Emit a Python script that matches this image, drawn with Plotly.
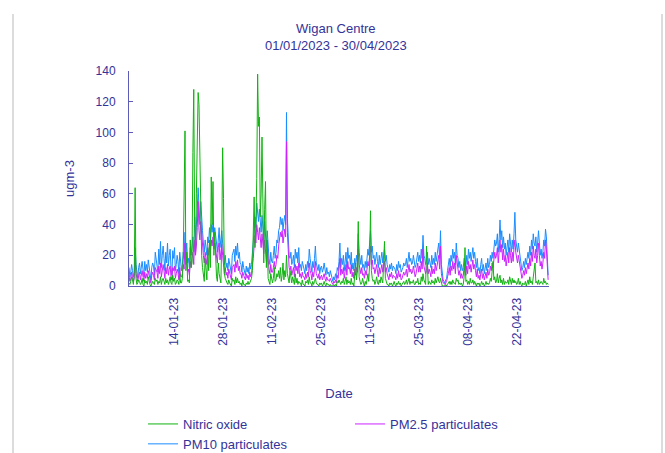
import pandas as pd
import plotly.graph_objects as go

# Values every 6 hours, 01/01/2023 00:00 onwards (ugm-3)
start_time = "2023-01-01 00:00"
step = "6h"

pm10 = [
    12,6,9,14, 10,6,9,25, 14,7,5,12, 15,8,13,16, 11,6,16,10, 14,9,17,12, 8,4,12,15, 13,7,22,18, 16,9,24,14, 29,12,20,26,
    18,10,22,15, 28,13,20,24, 12,7,23,18, 25,10,14,20, 16,8,22,12, 10,14,22,18, 35,20,28,15, 18,12,25,20, 28,32,22,45, 30,38,50,64,
    48,40,55,42, 36,28,22,30, 25,20,32,28, 38,30,40,35, 41,32,38,30, 28,22,34,38, 25,30,36,28, 22,14,20,12, 15,10,18,14, 12,8,20,22,
    24,16,26,20, 28,18,22,15, 14,9,16,12, 10,7,13,9, 12,8,15,11, 14,20,28,36, 45,38,54,48, 42,50,40,35, 46,38,30,42, 32,25,36,22,
    18,14,22,16, 15,20,26,18, 22,30,28,36, 38,45,40,44, 36,42,46,40, 113,44,30,20, 18,22,14,16, 20,12,24,18, 22,15,25,12, 14,10,16,12,
    11,8,14,10, 16,12,24,18, 14,9,16,12, 18,26,15,12, 10,14,8,12, 13,9,11,15, 10,7,12,8, 9,6,10,7, 5,3,6,4, 8,5,12,10,
    16,28,12,18, 14,20,10,16, 22,12,25,18, 20,14,22,11, 15,10,18,12, 20,16,34,22, 18,14,20,12, 14,10,16,12, 18,24,20,30, 36,22,26,18,
    20,14,18,22, 16,12,20,14, 18,22,15,20, 24,16,20,14, 12,9,14,11, 15,10,13,12, 11,8,14,10, 16,12,14,9, 10,12,15,13, 14,18,12,16,
    22,16,18,14, 15,20,17,12, 14,18,22,16, 20,15,24,18, 33,20,18,14, 16,22,14,18, 15,12,20,14, 18,14,22,16, 20,24,28,18, 36,14,8,4,
    3,2,4,5, 10,14,18,12, 20,16,24,18, 22,14,28,20, 18,12,16,10, 14,10,12,18, 16,12,20,14, 24,18,22,16, 20,25,18,22, 16,12,18,10,
    12,8,14,18, 10,14,8,12, 15,10,18,12, 14,20,16,22, 18,24,30,26, 28,34,22,30, 43,30,36,25, 32,24,28,20, 26,30,22,34, 28,22,30,24,
    34,48,30,26, 22,28,24,18, 14,10,12,16, 12,18,14,20, 22,18,26,20, 30,24,34,28, 26,32,22,28, 36,28,20,24, 18,22,30,26, 37,32,12,7,
]

pm25 = [
    7,3,5,9, 6,3,5,18, 8,4,3,7, 9,4,7,10, 6,3,9,5, 8,5,10,7, 4,2,7,9, 7,4,12,10, 9,5,13,8, 15,6,11,14,
    10,5,12,8, 14,7,11,13, 6,4,12,10, 13,5,8,11, 9,4,12,6, 6,8,14,11, 28,14,18,9, 11,7,16,12, 18,22,14,30, 20,26,38,55,
    36,30,42,32, 26,20,15,22, 18,14,24,20, 28,22,30,26, 32,24,28,22, 20,15,25,28, 17,22,27,20, 14,8,12,7, 9,5,11,8, 7,4,12,13,
    14,9,16,12, 17,10,13,8, 8,5,9,7, 6,4,8,5, 7,4,9,6, 8,12,18,26, 33,28,40,35, 30,38,29,25, 34,27,21,30, 22,16,25,14,
    11,8,14,9, 9,12,16,11, 14,20,18,26, 30,35,32,36, 28,34,37,32, 94,35,20,12, 10,13,7,9, 12,6,14,10, 13,8,15,6, 8,5,9,6,
    6,4,8,5, 9,6,15,10, 8,4,9,6, 10,16,8,6, 5,8,4,6, 7,4,6,8, 5,3,6,4, 4,3,5,3, 2,1,3,2, 4,2,7,5,
    10,18,7,11, 8,12,5,9, 14,7,16,11, 12,8,14,6, 9,5,11,7, 12,9,24,14, 11,8,12,7, 8,5,10,7, 11,16,13,20, 26,14,17,11,
    12,8,11,14, 9,6,12,8, 11,14,9,12, 16,9,12,8, 6,4,8,6, 9,5,7,6, 6,4,8,5, 10,6,8,4, 5,7,9,7, 8,11,6,10,
    14,9,11,8, 9,13,10,6, 8,11,15,9, 13,9,16,11, 24,13,11,8, 10,15,8,11, 9,6,13,8, 11,8,15,10, 13,16,20,11, 26,8,4,2,
    2,1,2,3, 6,8,12,7, 13,10,16,11, 15,8,20,13, 11,7,10,5, 8,5,7,12, 10,7,13,8, 16,11,14,9, 13,17,11,14, 10,6,11,5,
    7,4,8,11, 5,8,4,7, 9,5,11,7, 8,13,10,15, 12,17,22,18, 20,25,15,22, 30,22,27,17, 24,16,20,13, 18,22,15,25, 20,15,22,16,
    25,30,22,18, 15,20,16,11, 8,5,7,10, 7,12,8,13, 15,11,18,13, 22,16,26,20, 18,24,15,20, 28,20,13,16, 11,15,22,18, 30,24,8,4,
]

nitric_oxide = [
    2,1,3,6, 4,1,8,64, 5,1,2,4, 3,1,2,5, 1,0,4,2, 3,1,6,2, 1,0,2,3, 2,1,5,3, 4,1,3,2, 6,1,4,5,
    3,1,5,2, 4,1,3,6, 2,1,7,3, 5,1,2,4, 3,1,8,2, 2,5,20,88, 101,10,22,3, 4,2,30,12, 15,87,128,40, 22,60,117,126,
    118,80,45,20, 12,5,3,18, 8,4,25,10, 30,12,71,40, 68,20,35,10, 6,3,15,8, 4,2,30,90, 57,8,5,3, 2,1,4,2, 1,0,5,3,
    4,1,6,2, 5,2,3,1, 2,0,4,1, 1,0,2,1, 3,1,2,4, 5,10,30,58, 25,40,70,138, 104,110,45,60, 97,30,15,50, 68,12,30,5,
    3,1,8,4, 2,5,12,3, 4,8,6,10, 5,12,3,7, 15,4,10,6, 20,8,3,2, 10,4,2,6, 3,1,8,2, 5,1,3,2, 2,0,4,1,
    1,0,3,2, 4,1,6,2, 2,0,3,1, 3,5,2,1, 1,0,2,1, 2,0,1,3, 1,0,2,1, 1,0,1,0, 0,0,1,0, 1,0,3,2,
    4,2,1,3, 2,5,1,3, 6,1,4,2, 3,1,5,1, 2,0,8,15, 4,10,42,6, 3,1,2,5, 2,0,3,1, 4,8,3,15, 49,10,5,3,
    4,1,3,6, 2,1,4,2, 6,3,2,15, 29,5,3,1, 1,0,2,1, 2,0,1,3, 1,0,2,1, 3,1,2,0, 1,2,3,1, 2,4,1,3,
    5,1,3,2, 2,4,1,1, 3,2,5,1, 2,1,6,3, 8,4,2,1, 26,5,1,3, 2,1,4,2, 3,1,5,2, 4,6,3,2, 5,1,0,0,
    0,0,1,0, 1,2,3,1, 3,1,4,2, 2,1,5,3, 4,1,2,1, 2,0,1,6, 25,3,4,1, 3,1,5,2, 2,4,1,3, 1,0,2,1,
    2,0,1,3, 1,2,0,1, 3,1,2,1, 2,5,3,12, 16,4,6,2, 3,8,2,5, 7,2,4,1, 5,1,3,2, 2,4,1,6, 3,1,5,2,
    4,2,3,1, 2,5,1,3, 1,0,2,1, 1,3,0,2, 4,1,6,2, 3,1,5,8, 15,2,3,1, 4,1,2,3, 2,1,5,2, 3,1,2,1,
]

tick_dates = ["2023-01-14", "2023-01-28", "2023-02-11", "2023-02-25",
              "2023-03-11", "2023-03-25", "2023-04-08", "2023-04-22"]
tick_labels = ["14-01-23", "28-01-23", "11-02-23", "25-02-23",
               "11-03-23", "25-03-23", "08-04-23", "22-04-23"]
y_ticks = [0, 20, 40, 60, 80, 100, 120, 140]

def times(n):
    return pd.date_range(start_time, periods=n, freq=step)

TXT = "#333399"
AX = "#5c5cb8"
FONT = "Liberation Sans, Arial, sans-serif"

fig = go.Figure()
fig.add_trace(go.Scatter(x=times(len(pm10)), y=pm10, mode="lines", name="PM10 particulates",
                         line=dict(color="#1a8cff", width=1), legendrank=3))
fig.add_trace(go.Scatter(x=times(len(pm25)), y=pm25, mode="lines", name="PM2.5 particulates",
                         line=dict(color="#cc22ff", width=1), legendrank=2))
fig.add_trace(go.Scatter(x=times(len(nitric_oxide)), y=nitric_oxide, mode="lines", name="Nitric oxide",
                         line=dict(color="#11b311", width=1), legendrank=1))

fig.update_layout(
    width=665, height=453,
    margin=dict(l=129, r=116, t=71, b=167, autoexpand=False),
    paper_bgcolor="white", plot_bgcolor="white",
    font=dict(family=FONT, size=12, color=TXT),
    title=dict(text="Wigan Centre<br>01/01/2023 - 30/04/2023", x=0.505, xref="container",
               xanchor="center", y=1 - 33 / 453, yref="container", yanchor="top",
               font=dict(family=FONT, size=13, color=TXT)),
    showlegend=True,
    legend=dict(orientation="h", x=(143 - 129) / 420, xanchor="left",
                yref="container", y=1 - 409 / 453, yanchor="top",
                entrywidth=162, entrywidthmode="pixels", tracegroupgap=0,
                font=dict(family=FONT, size=13, color=TXT), bgcolor="rgba(0,0,0,0)"),
    xaxis=dict(type="date", range=["2023-01-01 00:00", "2023-05-01 00:00"],
               tickvals=tick_dates, ticktext=tick_labels, tickangle=-90,
               showline=True, linecolor=AX, linewidth=1, ticks="", showgrid=False, zeroline=False,
               ticklabelstandoff=6, tickfont=dict(family=FONT, size=12, color=TXT),
               title=dict(text="Date", standoff=44, font=dict(family=FONT, size=13, color=TXT))),
    yaxis=dict(range=[0, 140], tickvals=y_ticks, showline=True, linecolor=AX, linewidth=1,
               ticks="inside", ticklen=4, tickcolor=AX, showgrid=False, zeroline=False,
               ticklabelstandoff=10, tickfont=dict(family=FONT, size=12, color=TXT),
               title=dict(text="ugm-3", standoff=18, font=dict(family=FONT, size=13, color=TXT))),
    shapes=[
        dict(type="line", xref="paper", yref="paper", x0=(13 - 129) / 420, x1=(13 - 129) / 420,
             y0=(286 - 14) / 215, y1=(286 - 453) / 215, line=dict(color="#dcdcdc", width=2), layer="below"),
        dict(type="line", xref="paper", yref="paper", x0=(662 - 129) / 420, x1=(662 - 129) / 420,
             y0=(286 - 14) / 215, y1=(286 - 453) / 215, line=dict(color="#dcdcdc", width=2), layer="below"),
    ],
)

fig.write_html("out.html", config={"displayModeBar": False},
               post_script="document.body.style.margin='0px';")
